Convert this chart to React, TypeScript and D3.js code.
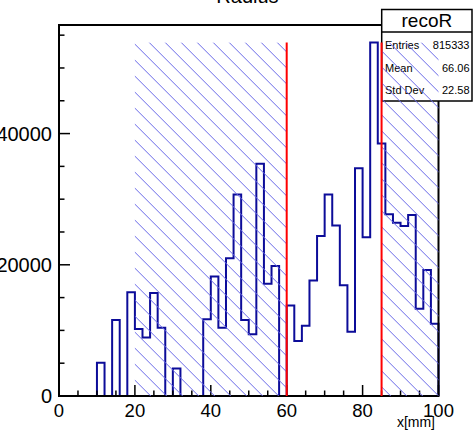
import React from "react";
import * as d3 from "d3";

// ---- data ----
const binEdgesStart = 0;
const binWidth = 2;
const counts = [
  0, 0, 0, 0, 0, 5080, 0, 11600, 0, 15800,
  10200, 8900, 15700, 10400, 0, 4200, 0, 0, 0, 11700,
  18200, 10400, 21000, 30700, 11600, 9400, 35400, 17100, 19800, 0,
  13800, 8400, 10700, 17600, 24400, 30700, 26000, 16900, 9800, 34700,
  24200, 53900, 38500, 27700, 26400, 25900, 27600, 13300, 19200, 11000,
];
const cutLines = [60, 85];
const hatchRanges: [number, number][] = [[20, 60], [85, 100]];
const xTicksMajor = [0, 20, 40, 60, 80, 100];
const yTicksMajor = [0, 20000, 40000];
const statLabels = ["Entries", "Mean", "Std Dev"];
const statValues = ["815333", "66.06", "22.58"];
const title = "Radius";
const histName = "recoR";
const xTitle = "x[mm]";

const W = 473, H = 431;
const FL = 59, FR = 438.5, FT = 25, FB = 396;
const FONT = "'Liberation Sans', Arial, Helvetica, sans-serif";

export default function App() {
  const x = d3.scaleLinear().domain([0, 100]).range([FL, FR]);
  const y = d3.scaleLinear().domain([0, 56550]).range([FB, FT]);
  const maxBin = d3.max(counts) as number;

  const pts: [number, number][] = [[binEdgesStart, 0]];
  counts.forEach((v, i) => {
    const lo = binEdgesStart + i * binWidth;
    pts.push([lo, v], [lo + binWidth, v]);
  });
  pts.push([100, 0]);
  const line = d3.line<[number, number]>().x((d) => x(d[0])).y((d) => y(d[1]));

  const xMinor = d3.range(0, 100.01, 5);
  const yMinor = d3.range(0, 56000, 5000);

  // hatch lines: x - y = c
  const hatchOffsets = d3.range(-600, 700, 16).map((c) => c + 2.7);
  const hy0 = y(maxBin), hy1 = y(0);

  const boxL = 381.7, boxR = 472, boxT = 9.5, boxB = 101, boxSep = 32;

  return (
    <svg width={W} height={H} style={{ position: "absolute", left: 0, top: 0, background: "#fff" }} fontFamily={FONT}>
      <defs>
        {hatchRanges.map((r, i) => (
          <clipPath id={`hc${i}`} key={i}>
            <rect x={x(r[0])} y={hy0} width={x(r[1]) - x(r[0])} height={hy1 - hy0} />
          </clipPath>
        ))}
      </defs>
      <rect x={0} y={0} width={W} height={H} fill="#fff" />
      {/* title */}
      <text x={247.5} y={3} textAnchor="middle" fontSize={20}>{title}</text>

      {/* histogram */}
      <path d={line(pts) || ""} fill="none" stroke="#0c0c99" strokeWidth={2} strokeLinejoin="miter" />

      {/* frame */}
      <rect x={FL} y={FT} width={FR - FL} height={FB - FT} fill="none" stroke="#000" strokeWidth={2} />

      {/* x ticks */}
      {xMinor.map((t) => (
        <line key={"xm" + t} x1={x(t)} x2={x(t)} y1={FB} y2={FB - (t % 20 === 0 ? 11 : 5.5)} stroke="#000" strokeWidth={1.5} />
      ))}
      {xTicksMajor.map((t) => (
        <text key={"xl" + t} x={x(t)} y={417} textAnchor="middle" fontSize={18.5}>{t}</text>
      ))}
      <text x={435} y={427} textAnchor="end" fontSize={14}>{xTitle}</text>

      {/* y ticks */}
      {yMinor.map((t) => (
        <line key={"ym" + t} x1={FL} x2={FL + (t % 20000 === 0 ? 11 : 5.5)} y1={y(t)} y2={y(t)} stroke="#000" strokeWidth={1.5} />
      ))}
      {yTicksMajor.map((t) => (
        <text key={"yl" + t} x={52} y={y(t)} dy="0.36em" textAnchor="end" fontSize={20}>{t}</text>
      ))}

      {/* stats box */}
      <rect x={boxL} y={boxT} width={boxR - boxL} height={boxB - boxT} fill="#fff" stroke="#000" strokeWidth={1.5} />
      <line x1={boxL} x2={boxR} y1={boxSep} y2={boxSep} stroke="#000" strokeWidth={1.5} />
      <text x={(boxL + boxR) / 2} y={27} textAnchor="middle" fontSize={19}>{histName}</text>
      {statLabels.map((s, i) => (
        <g key={s}>
          <text x={385} y={49 + i * 22.5} fontSize={11}>{s}</text>
          <text x={469.5} y={49 + i * 22.5} fontSize={11} textAnchor="end">{statValues[i]}</text>
        </g>
      ))}

      {/* hatch */}
      {hatchRanges.map((r, i) => (
        <g key={"h" + i} clipPath={`url(#hc${i})`}>
          {hatchOffsets.map((c) => (
            <line key={c} x1={c + hy0} y1={hy0} x2={c + hy1} y2={hy1} stroke="#6a6ae8" strokeWidth={1} />
          ))}
        </g>
      ))}

      {/* cut lines */}
      {cutLines.map((c) => (
        <line key={"c" + c} x1={x(c)} x2={x(c)} y1={y(maxBin)} y2={y(0)} stroke="#ff0000" strokeWidth={2} />
      ))}
    </svg>
  );
}
